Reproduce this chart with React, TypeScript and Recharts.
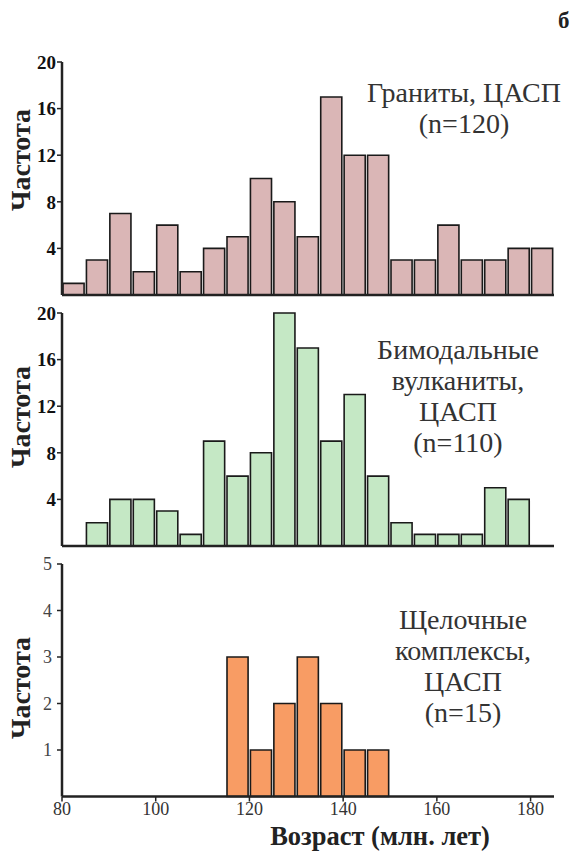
import { BarChart, Bar, XAxis, YAxis } from "recharts";

// bin starts, 5 Ma wide
const BINS = [80, 85, 90, 95, 100, 105, 110, 115, 120, 125, 130, 135, 140, 145, 150, 155, 160, 165, 170, 175, 180];
const BIN_WIDTH = 5;

const GRANITES = [1, 3, 7, 2, 6, 2, 4, 5, 10, 8, 5, 17, 12, 12, 3, 3, 6, 3, 3, 4, 4];
const VOLCANICS = [0, 2, 4, 4, 3, 1, 9, 6, 8, 20, 17, 9, 13, 6, 2, 1, 1, 1, 5, 4, 0];
const ALKALINE = [0, 0, 0, 0, 0, 0, 0, 3, 1, 2, 3, 2, 1, 1, 0, 0, 0, 0, 0, 0, 0];

const X_TICKS = [80, 100, 120, 140, 160, 180];
const FREQ_TICKS = [4, 8, 12, 16, 20];
const ALK_TICKS = [1, 2, 3, 4, 5];

const X_DOMAIN: [number, number] = [80, 185];
const W = 573;
const LEFT = 62;
const RIGHT = 19;
const BAR_PX = ((W - LEFT - RIGHT) * BIN_WIDTH) / (X_DOMAIN[1] - X_DOMAIN[0]);

const SERIF = "'Liberation Serif', 'Times New Roman', serif";
const AXIS = "#222";

type PanelProps = {
  values: number[];
  fill: string;
  top: number;
  height: number;
  marginTop: number;
  marginBottom: number;
  axisHeight: number;
  yMax: number;
  yTicks: number[];
  boldY: boolean;
  xLabels: boolean;
};

function Panel(p: PanelProps) {
  const data = BINS.map((b, i) => ({ mid: b + BIN_WIDTH / 2, count: p.values[i] }));
  return (
    <div style={{ position: "absolute", left: 0, top: p.top }}>
      <BarChart
        width={W}
        height={p.height}
        data={data}
        margin={{ top: p.marginTop, right: RIGHT, bottom: p.marginBottom, left: 22 }}
        barCategoryGap={0}
        barGap={0}
      >
        <XAxis
          dataKey="mid"
          type="number"
          domain={X_DOMAIN}
          ticks={X_TICKS}
          interval={0}
          height={p.axisHeight}
          axisLine={{ stroke: AXIS, strokeWidth: 2.5 }}
          tickLine={{ stroke: AXIS, strokeWidth: 1.5 }}
          tickSize={5}
          tickMargin={1}
          tick={p.xLabels ? { fill: "#333", fontSize: 18, fontFamily: SERIF } : false}
        />
        <YAxis
          type="number"
          domain={[0, p.yMax]}
          ticks={p.yTicks}
          interval={0}
          width={40}
          axisLine={{ stroke: AXIS, strokeWidth: 2.5 }}
          tickLine={{ stroke: AXIS, strokeWidth: 1.5 }}
          tickSize={5}
          tickMargin={p.boldY ? 1 : 5}
          tick={{
            fill: p.boldY ? "#111" : "#444",
            fontSize: p.boldY ? 19 : 18,
            fontWeight: p.boldY ? "bold" : "normal",
            fontFamily: SERIF,
          }}
        />
        <Bar
          dataKey="count"
          fill={p.fill}
          stroke="#1a1a1a"
          strokeWidth={1.6}
          barSize={BAR_PX}
          isAnimationActive={false}
        />
      </BarChart>
    </div>
  );
}

function Note({ lines, cx, top }: { lines: string[]; cx: number; top: number }) {
  return (
    <div
      style={{
        position: "absolute",
        left: cx - 130,
        top,
        width: 260,
        textAlign: "center",
        fontFamily: SERIF,
        fontSize: 28,
        lineHeight: "31px",
        color: "#333",
      }}
    >
      {lines.map((l) => (
        <div key={l}>{l}</div>
      ))}
    </div>
  );
}

function YTitle({ cy }: { cy: number }) {
  return (
    <div
      style={{
        position: "absolute",
        left: 21,
        top: cy,
        transform: "translate(-50%, -50%) rotate(-90deg)",
        fontFamily: SERIF,
        fontWeight: "bold",
        fontSize: 28,
        lineHeight: "32px",
        whiteSpace: "nowrap",
        color: "#222",
      }}
    >
      Частота
    </div>
  );
}

export default function App() {
  return (
    <div style={{ position: "absolute", left: 0, top: 0, width: W, height: 851, background: "#fff" }}>
      <Panel values={GRANITES} fill="#dab6b6" top={0} height={310} marginTop={62} marginBottom={0}
        axisHeight={15} yMax={20} yTicks={FREQ_TICKS} boldY xLabels={false} />
      <Panel values={VOLCANICS} fill="#c5e8c5" top={300} height={260} marginTop={13} marginBottom={0}
        axisHeight={14} yMax={20} yTicks={FREQ_TICKS} boldY xLabels={false} />
      <Panel values={ALKALINE} fill="#f89c64" top={551} height={300} marginTop={13} marginBottom={24.5}
        axisHeight={30} yMax={5} yTicks={ALK_TICKS} boldY={false} xLabels />

      <YTitle cy={160} />
      <YTitle cy={417} />
      <YTitle cy={688} />

      <Note lines={["Граниты, ЦАСП", "(n=120)"]} cx={464} top={77} />
      <Note lines={["Бимодальные", "вулканиты,", "ЦАСП", "(n=110)"]} cx={458} top={334} />
      <Note lines={["Щелочные", "комплексы,", "ЦАСП", "(n=15)"]} cx={463} top={604} />

      <div style={{ position: "absolute", left: 380, top: 823, transform: "translateX(-50%)", fontFamily: SERIF,
        fontWeight: "bold", fontSize: 26.5, lineHeight: 1, whiteSpace: "nowrap", color: "#222" }}>
        Возраст (млн. лет)
      </div>
      <div style={{ position: "absolute", left: 558, top: 8, fontFamily: SERIF, fontWeight: "bold",
        fontSize: 23, lineHeight: "26px", color: "#222" }}>
        б
      </div>
    </div>
  );
}
